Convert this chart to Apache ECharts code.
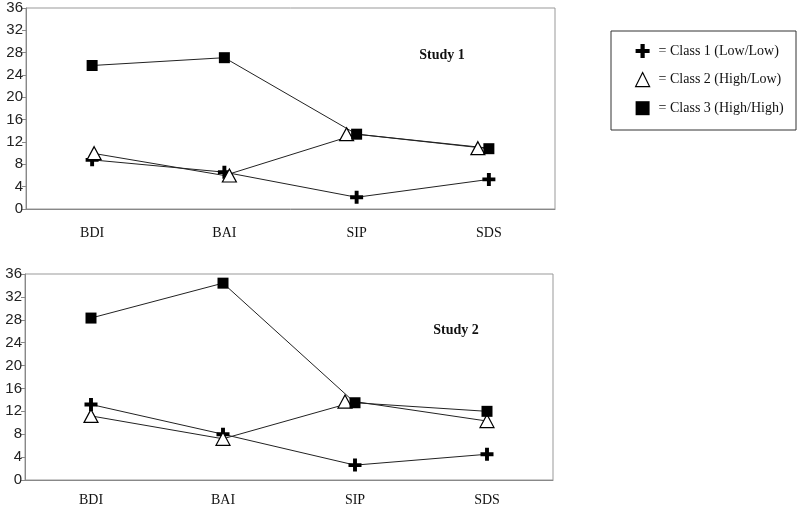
<!DOCTYPE html>
<html>
<head>
<meta charset="utf-8">
<script src="https://cdn.jsdelivr.net/npm/echarts@6/dist/echarts.min.js"></script>
<style>
html, body { margin: 0; padding: 0; background: #fff; }
#chart { width: 800px; height: 510px; }
</style>
</head>
<body>
<div id="chart"></div>
<script>
var categories = ['BDI', 'BAI', 'SIP', 'SDS'];
var classNames = ['Class 1 (Low/Low)', 'Class 2 (High/Low)', 'Class 3 (High/High)'];
var yTicks = [0, 36, 4]; // min, max, step

// Study 1
var study1Class1 = [8.8, 6.6, 2.1, 5.3];
var study1Class2 = [10.0, 6.0, 13.4, 10.9];
var study1Class3 = [25.7, 27.1, 13.4, 10.8];

// Study 2
var study2Class1 = [13.2, 8.0, 2.6, 4.5];
var study2Class2 = [11.2, 7.2, 13.7, 10.3];
var study2Class3 = [28.3, 34.4, 13.5, 12.0];

// small sideways nudges of the triangle markers, as in the original
var study1Class2Nudge = [2, 5, -10, -11];
var study2Class2Nudge = [0, 0, -10, 0];

var crossPath = 'path://M3.5,0 H6.5 V3.5 H10 V6.5 H6.5 V10 H3.5 V6.5 H0 V3.5 H3.5 Z';

var markers = [
	{ symbol: crossPath, symbolSize: 13, itemStyle: { color: '#000' } },
	{ symbol: 'triangle', symbolSize: [14, 13], itemStyle: { color: '#fff', borderColor: '#000', borderWidth: 1.2 } },
	{ symbol: 'rect', symbolSize: 11, itemStyle: { color: '#000' } }
];

function makeSeries(idx, values, name, style, nudge) {
	var data = values.map(function (v, k) {
		return nudge ? { value: v, symbolOffset: [nudge[k], 0] } : v;
	});
	return {
		name: name,
		type: 'line',
		xAxisIndex: idx,
		yAxisIndex: idx,
		data: data,
		symbol: style.symbol,
		symbolSize: style.symbolSize,
		showAllSymbol: true,
		itemStyle: style.itemStyle,
		lineStyle: { color: '#222', width: 1 },
		emphasis: { disabled: true },
		z: 3
	};
}

function makeX(idx, margin) {
	return {
		type: 'category',
		gridIndex: idx,
		data: categories,
		boundaryGap: true,
		axisLine: { lineStyle: { color: '#888' } },
		axisTick: { alignWithLabel: true, length: 4, lineStyle: { color: '#888' } },
		axisLabel: { margin: margin, color: '#111', fontFamily: 'Liberation Serif', fontSize: 14 }
	};
}

function makeY(idx) {
	return {
		type: 'value',
		gridIndex: idx,
		min: yTicks[0],
		max: yTicks[1],
		interval: yTicks[2],
		splitLine: { show: false },
		axisLine: { show: true, lineStyle: { color: '#888' } },
		axisTick: { show: true, length: 4, lineStyle: { color: '#888' } },
		axisLabel: { margin: 3, color: '#222', fontFamily: 'Liberation Sans', fontSize: 15 }
	};
}

var study1 = [study1Class1, study1Class2, study1Class3];
var study2 = [study2Class1, study2Class2, study2Class3];
var series = [];
for (var i = 0; i < 3; i++) {
	series.push(makeSeries(0, study1[i], classNames[i], markers[i], i === 1 ? study1Class2Nudge : null));
	series.push(makeSeries(1, study2[i], classNames[i], markers[i], i === 1 ? study2Class2Nudge : null));
}

var option = {
	backgroundColor: '#fff',
	animation: false,
	grid: [
		{ left: 26, width: 529, top: 8, height: 201, show: true, borderColor: '#999', borderWidth: 1 },
		{ left: 25, width: 528, top: 274, height: 206, show: true, borderColor: '#999', borderWidth: 1 }
	],
	xAxis: [makeX(0, 17), makeX(1, 13)],
	yAxis: [makeY(0), makeY(1)],
	legend: {
		orient: 'vertical',
		left: 630,
		top: 39,
		itemGap: 14,
		itemWidth: 14,
		itemHeight: 14,
		selectedMode: false,
		textStyle: { fontFamily: 'Liberation Serif', fontSize: 14, color: '#111', padding: [0, 0, 0, 4] },
		formatter: function (name) { return '= ' + name; },
		data: classNames.map(function (n, i) {
			return { name: n, icon: markers[i].symbol, itemStyle: markers[i].itemStyle };
		})
	},
	graphic: [
		{ type: 'rect', shape: { x: 611, y: 31, width: 185, height: 99 }, style: { fill: 'none', stroke: '#333', lineWidth: 1 } },
		{ type: 'text', x: 442, y: 55, style: { text: 'Study 1', font: 'bold 14px "Liberation Serif"', fill: '#111', textAlign: 'center', textVerticalAlign: 'middle' } },
		{ type: 'text', x: 456, y: 330, style: { text: 'Study 2', font: 'bold 14px "Liberation Serif"', fill: '#111', textAlign: 'center', textVerticalAlign: 'middle' } }
	],
	series: series
};

var chart = echarts.init(document.getElementById('chart'));
chart.setOption(option);
</script>
</body>
</html>
